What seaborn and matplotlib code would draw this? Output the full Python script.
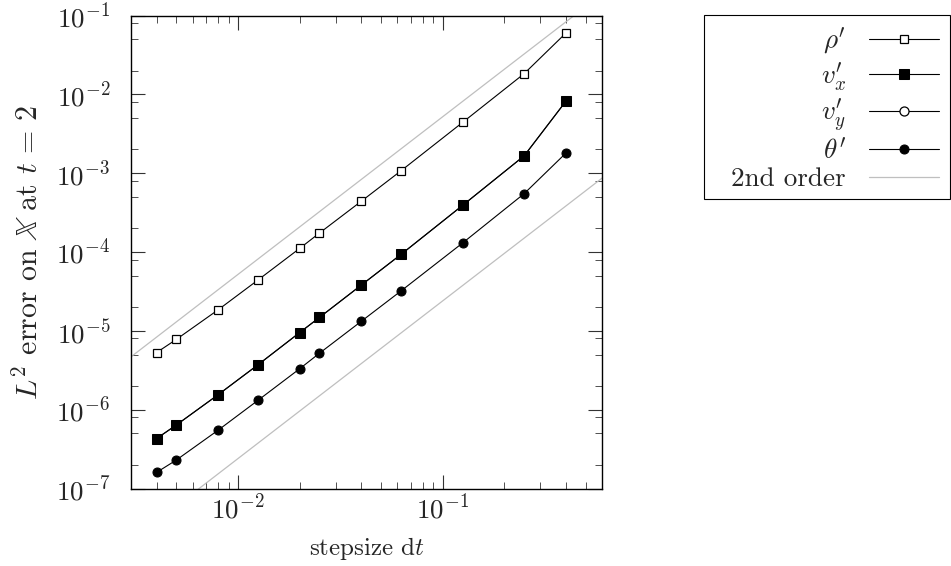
import matplotlib
matplotlib.use("Agg")
import matplotlib.pyplot as plt
import matplotlib.ticker as mticker
from matplotlib.patches import Rectangle
import numpy as np
import seaborn as sns

sns.set_style("ticks")
plt.rcParams['font.family'] = 'serif'
plt.rcParams['font.serif'] = ['cmr10', 'DejaVu Serif']
plt.rcParams['mathtext.fontset'] = 'cm'
plt.rcParams['axes.unicode_minus'] = False
plt.rcParams['axes.formatter.use_mathtext'] = True

# step sizes and L2 errors
dt = np.array([0.004, 0.005, 0.008, 0.0125, 0.02, 0.025, 0.04, 0.0625, 0.125, 0.25, 0.4])
err_rho = np.array([5.3e-6, 7.8e-6, 1.85e-5, 4.4e-5, 1.11e-4, 1.74e-4, 4.4e-4, 1.07e-3, 4.4e-3, 1.83e-2, 6.0e-2])
err_vx = np.array([4.3e-7, 6.4e-7, 1.55e-6, 3.7e-6, 9.5e-6, 1.48e-5, 3.8e-5, 9.3e-5, 3.9e-4, 1.66e-3, 8.2e-3])
err_vy = np.array([4.3e-7, 6.4e-7, 1.55e-6, 3.7e-6, 9.5e-6, 1.48e-5, 3.8e-5, 9.3e-5, 3.9e-4, 1.66e-3, 8.2e-3])
err_theta = np.array([1.6e-7, 2.3e-7, 5.5e-7, 1.31e-6, 3.3e-6, 5.2e-6, 1.32e-5, 3.2e-5, 1.3e-4, 5.5e-4, 1.8e-3])

# 2nd order guide lines: c * dt^2
ref_dt = np.array([0.002, 1.0])
ref_upper = 0.52 * ref_dt**2
ref_lower = 2.4e-3 * ref_dt**2

fig = plt.figure(figsize=(9.51, 5.66), dpi=100)
ax = fig.add_axes([131 / 951, 77.5 / 566, 471 / 951, 473 / 566])

lw = 0.8
ms = 6.5
sns.lineplot(x=dt, y=err_rho, ax=ax, color='black', lw=lw, marker='s', ms=ms - 0.5,
             mfc='white', mec='black', mew=0.9, label=r"$\rho^{\prime}$", zorder=3)
sns.lineplot(x=dt, y=err_vx, ax=ax, color='black', lw=lw, marker='s', ms=ms,
             mfc='black', mec='black', label=r"$v^{\prime}_{x}$", zorder=4)
sns.lineplot(x=dt, y=err_vy, ax=ax, color='black', lw=lw, marker='o', ms=ms,
             mfc='white', mec='black', mew=0.9, label=r"$v^{\prime}_{y}$", zorder=3)
sns.lineplot(x=dt, y=err_theta, ax=ax, color='black', lw=lw, marker='o', ms=ms,
             mfc='black', mec='black', label=r"$\theta^{\prime}$", zorder=3)
ax.plot(ref_dt, ref_upper, color='#bfbfbf', lw=0.9, label='2nd order', zorder=2)
ax.plot(ref_dt, ref_lower, color='#bfbfbf', lw=0.9, zorder=2)

ax.set_xscale('log')
ax.set_yscale('log')
ax.set_xlim(0.003, 0.6)
ax.set_ylim(1e-7, 1e-1)

ax.xaxis.set_major_locator(mticker.LogLocator(base=10, numticks=10))
ax.xaxis.set_minor_locator(mticker.LogLocator(base=10, subs=np.arange(2, 10), numticks=10))
ax.xaxis.set_minor_formatter(mticker.NullFormatter())
ax.yaxis.set_major_locator(mticker.LogLocator(base=10, numticks=10))
ax.yaxis.set_minor_locator(mticker.LogLocator(base=10, subs=(2, 5, 8), numticks=10))
ax.yaxis.set_minor_formatter(mticker.NullFormatter())

ax.tick_params(which='both', direction='in', top=True, right=True, labelsize=19.5,
               color='#333333')
ax.tick_params(which='major', length=10, width=0.8)
ax.tick_params(which='minor', length=5, width=0.6)
ax.tick_params(axis='y', which='major', pad=15)
ax.tick_params(axis='x', which='major', pad=4)
for s in ax.spines.values():
    s.set_linewidth(1.0)
    s.set_color('black')

ax.set_xlabel(r"stepsize d$t$", fontsize=18, labelpad=8)
ax.set_ylabel(r"$L^2$ error on $\mathbb{X}$ at $t\,=\,2$", fontsize=21.5, labelpad=9)

handles, labels = ax.get_legend_handles_labels()
leg = ax.legend(handles, labels, loc='upper right', bbox_to_anchor=(950 / 951, 1 - 15 / 566),
                bbox_transform=fig.transFigure, markerfirst=False, fontsize=19.5,
                frameon=False, handlelength=2.6, handletextpad=0.85, labelspacing=0.14,
                borderpad=0.4, borderaxespad=0)

# legend frame as drawn in the original (wider padding on the left)
fig.patches.append(Rectangle((704 / 951, 1 - 199 / 566), 246 / 951, 184 / 566,
                             transform=fig.transFigure, fill=False,
                             edgecolor='black', lw=0.8))

fig.savefig("out.png", dpi=100)
